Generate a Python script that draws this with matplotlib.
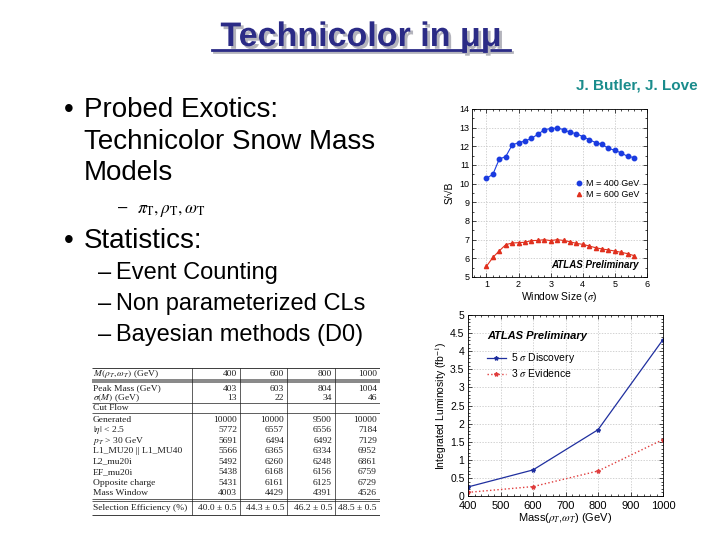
import matplotlib
matplotlib.use("Agg")
import matplotlib.pyplot as plt
import matplotlib.patheffects as pe
from matplotlib.lines import Line2D
from matplotlib.ticker import MultipleLocator

plt.rcParams['font.family'] = ['Liberation Sans', 'DejaVu Sans']
plt.rcParams['mathtext.fontset'] = 'stix'

# S/sqrt(B) vs window size (top right plot)
window = [1.0, 1.2, 1.4, 1.6, 1.8, 2.0, 2.2, 2.4, 2.6, 2.8, 3.0, 3.2,
          3.4, 3.6, 3.8, 4.0, 4.2, 4.4, 4.6, 4.8, 5.0, 5.2, 5.4, 5.6]
sb_400 = [10.29, 10.5, 11.32, 11.45, 12.07, 12.2, 12.28, 12.43, 12.64, 12.89, 12.95, 12.98,
          12.9, 12.75, 12.68, 12.52, 12.36, 12.2, 12.1, 11.89, 11.79, 11.64, 11.46, 11.4]
sb_600 = [5.57, 6.05, 6.4, 6.73, 6.82, 6.84, 6.86, 6.95, 6.96, 7.0, 6.95, 7.0,
          6.96, 6.89, 6.8, 6.75, 6.66, 6.57, 6.5, 6.45, 6.39, 6.32, 6.25, 6.14]

# integrated luminosity vs mass (bottom right plot)
mass = [400, 600, 800, 1000]
lumi_5sigma = [0.25, 0.72, 1.83, 4.32]
lumi_3sigma = [0.1, 0.26, 0.69, 1.56]

# cut flow table
table_header = ['400', '600', '800', '1000']
table_top = [
    ('Peak Mass (GeV)', ['403', '603', '804', '1004']),
    (r'$\sigma(M)$ (GeV)', ['13', '22', '34', '46']),
]
table_cuts = [
    ('Generated', ['10000', '10000', '9500', '10000']),
    (r'$|\eta|$ < 2.5', ['5772', '6557', '6556', '7184']),
    (r'$p_T$ > 30 GeV', ['5691', '6494', '6492', '7129']),
    ('L1_MU20 || L1_MU40', ['5566', '6365', '6334', '6952']),
    ('L2_mu20i', ['5492', '6260', '6248', '6861']),
    ('EF_mu20i', ['5438', '6168', '6156', '6759']),
    ('Opposite charge', ['5431', '6161', '6125', '6729']),
    ('Mass Window', ['4003', '4429', '4391', '4526']),
]
table_eff = ['40.0 ± 0.5', '44.3 ± 0.5', '46.2 ± 0.5', '48.5 ± 0.5']

W, H = 720, 540


def fx(x):
    return x / W


def fy(y):
    return 1 - y / H


fig = plt.figure(figsize=(7.2, 5.4), dpi=100)

# title with shadow and underline
title = "Technicolor in μμ"
navy = '#2b2b86'
shadow = '#b4b4bc'
fig.text(fx(361), fy(46), title, ha='center', va='baseline', fontsize=24.5,
         fontweight='bold', color=navy,
         path_effects=[pe.withSimplePatchShadow(offset=(2, -2), shadow_rgbFace=shadow, alpha=1)])
fig.add_artist(Line2D([fx(214), fx(512)], [fy(52), fy(52)], color=shadow, lw=2))
fig.add_artist(Line2D([fx(212), fx(510)], [fy(50), fy(50)], color=navy, lw=2))

fig.text(fx(698), fy(85), "J. Butler, J. Love", ha='right', va='center',
         fontsize=11, fontweight='bold', color='#1a8c8c')

# bullet text
big = 20
small = 17
fig.text(fx(64), fy(117), "•", fontsize=big, va='baseline')
fig.text(fx(84), fy(117), "Probed Exotics:", fontsize=big, va='baseline')
fig.text(fx(84), fy(149), "Technicolor Snow Mass", fontsize=big, va='baseline')
fig.text(fx(84), fy(180), "Models", fontsize=big, va='baseline')
fig.text(fx(118), fy(213), "–", fontsize=12, va='baseline')
fig.text(fx(137), fy(213), r"$\pi_{\rm T}, \rho_{\rm T}, \omega_{\rm T}$", fontsize=12.5, va='baseline')
fig.text(fx(64), fy(248), "•", fontsize=big, va='baseline')
fig.text(fx(84), fy(248), "Statistics:", fontsize=big, va='baseline')
for i, line in enumerate(["Event Counting", "Non parameterized CLs", "Bayesian methods (D0)"]):
    yb = 279 + 31 * i
    fig.text(fx(98), fy(yb), "–", fontsize=small, va='baseline')
    fig.text(fx(116), fy(yb), line, fontsize=small, va='baseline')

# top right plot
ax1 = fig.add_axes([fx(472), fy(277), (647 - 472) / W, (277 - 109) / H])
ax1.plot(window, sb_400, '-o', color='#1a3be0', ms=3.2, lw=0.8)
ax1.plot(window, sb_600, '-^', color='#e0301e', ms=3, lw=0.8)
ax1.set_xlim(0.55, 6.0)
ax1.set_ylim(5, 14)
ax1.xaxis.set_major_locator(MultipleLocator(1))
ax1.xaxis.set_minor_locator(MultipleLocator(0.2))
ax1.yaxis.set_major_locator(MultipleLocator(1))
ax1.yaxis.set_minor_locator(MultipleLocator(0.5))
ax1.tick_params(which='both', direction='in', top=True, right=True, width=0.5, labelsize=6.5, pad=2)
ax1.tick_params(which='major', length=3)
ax1.tick_params(which='minor', length=1.5)
ax1.grid(True, ls=(0, (2, 2)), color='#c0c0c0', lw=0.5)
ax1.set_ylabel("S/√B", fontsize=7.5, labelpad=3)
ax1.set_xlabel(r"Window Size ($\sigma$)", fontsize=7.5, labelpad=1)
for s in ax1.spines.values():
    s.set_linewidth(0.6)
h1 = [Line2D([], [], marker='o', ls='none', color='#1a3be0', ms=3.2),
      Line2D([], [], marker='^', ls='none', color='#e0301e', ms=3)]
ax1.legend(h1, ['M = 400 GeV', 'M = 600 GeV'], loc='upper right', bbox_to_anchor=(0.99, 0.62),
           frameon=False, fontsize=6.5, handlelength=0.8, handletextpad=0.3,
           labelspacing=0.2, borderpad=0.2)
ax1.text(0.95, 0.07, "ATLAS Preliminary", transform=ax1.transAxes, ha='right', va='center',
         fontsize=7, fontweight='bold', style='italic')

# bottom right plot
ax2 = fig.add_axes([fx(468), fy(496), (663 - 468) / W, (496 - 315) / H])
ax2.plot(mass, lumi_5sigma, '-', marker='*', color='#1f2f9f', ms=3, lw=0.9, label=r"5 $\sigma$ Discovery")
ax2.plot(mass, lumi_3sigma, ':', marker='*', color='#e03c3c', ms=3, lw=1.0, label=r"3 $\sigma$ Evidence")
ax2.set_xlim(400, 1000)
ax2.set_ylim(0, 5)
ax2.xaxis.set_major_locator(MultipleLocator(100))
ax2.xaxis.set_minor_locator(MultipleLocator(20))
ax2.yaxis.set_minor_locator(MultipleLocator(0.1))
ax2.tick_params(which='both', direction='in', top=True, right=True, width=0.5)
ax2.tick_params(which='major', length=3)
ax2.tick_params(which='minor', length=1.5)
ax2.tick_params(axis='y', labelsize=7.5, pad=2.5)
ax2.tick_params(axis='x', labelsize=8, pad=3.5)
ax2.grid(True, ls=(0, (2, 2)), color='#c0c0c0', lw=0.5)
ax2.set_yticks([0, 0.5, 1, 1.5, 2, 2.5, 3, 3.5, 4, 4.5, 5])
ax2.set_yticklabels(['0', '0.5', '1', '1.5', '2', '2.5', '3', '3.5', '4', '4.5', '5'])
ax2.set_ylabel(r"Integrated Luminosity (fb$^{-1}$)", fontsize=7.5, labelpad=1)
ax2.set_xlabel(r"Mass($\rho_T$,$\omega_T$) (GeV)", fontsize=8, labelpad=0)
for s in ax2.spines.values():
    s.set_linewidth(0.6)
ax2.legend(loc='upper left', bbox_to_anchor=(0.06, 0.84), frameon=False, fontsize=7.5,
           handlelength=1.8, handletextpad=0.5, labelspacing=0.2, borderpad=0.2)
ax2.text(0.1, 0.885, "ATLAS Preliminary", transform=ax2.transAxes, ha='left', va='center',
         fontsize=8, fontweight='bold', style='italic')

# cut flow table (drawn in pixel coordinates)
tax = fig.add_axes([fx(92), fy(518), (380 - 92) / W, (518 - 366) / H])
tax.set_xlim(92, 380)
tax.set_ylim(518, 366)
tax.axis('off')
tfs = 6.8
tcol = '#1e1e1e'
col_lines = [192, 240, 287, 335]
col_right = [237, 284, 332, 377]
x0, x1 = 92, 380

tax.hlines([368], x0, x1, color=tcol, lw=0.6)
tax.fill_between([x0, x1], 379, 383, color='#8a8a8a', lw=0)
tax.vlines(col_lines, 368, 515, color=tcol, lw=0.5)


def row(y, label, vals):
    tax.text(93, y, label, ha='left', va='center', fontsize=tfs, family='Liberation Serif', color=tcol)
    for xr, v in zip(col_right, vals):
        tax.text(xr, y, v, ha='right', va='center', fontsize=tfs, family='Liberation Serif', color=tcol)


row(374, r'$M(\rho_T,\omega_T)$ (GeV)', table_header)
yy = 388.5
for label, vals in table_top:
    row(yy, label, vals)
    yy += 9.5
tax.hlines([403], x0, x1, color=tcol, lw=0.5)
row(408, 'Cut Flow', ['', '', '', ''])
tax.hlines([413], x0, x1, color=tcol, lw=0.5)
yy = 419.5
for label, vals in table_cuts:
    row(yy, label, vals)
    yy += 10.5
tax.hlines([498.5, 501], x0, x1, color=tcol, lw=0.5)
row(508, 'Selection Efficiency (%)', table_eff)
tax.hlines([515], x0, x1, color=tcol, lw=0.6)

fig.savefig("out.png", dpi=100)
